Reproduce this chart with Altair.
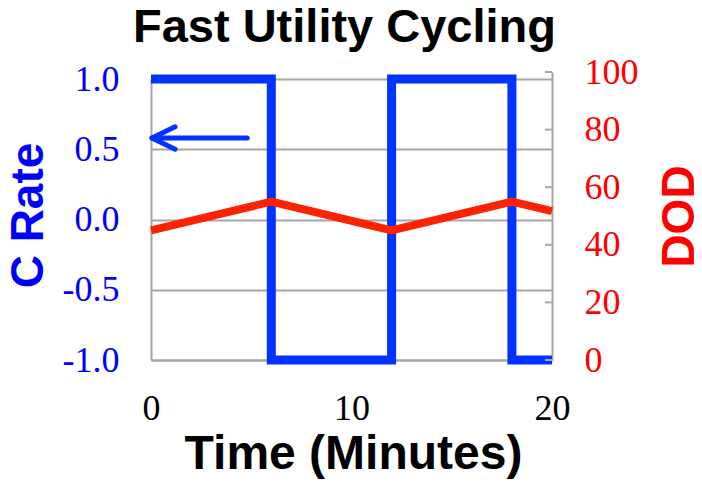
import altair as alt
import pandas as pd

# Blue square wave: C rate vs time (minutes)
c_time = [0, 6, 6, 12, 12, 18, 18, 20]
c_rate = [1, 1, -1, -1, 1, 1, -1, -1]

# Red DOD triangle wave
dod_time = [0, 6, 12, 18, 20]
dod_vals = [45, 55, 45, 55, 51.7]

# Arrow annotation (pointing to left axis), in data units
arrow_x = [0.05, 4.8, 1.2, 0.05, 1.2]
arrow_y = [0.58, 0.58, 0.66, 0.58, 0.50]
arrow_seg = ["shaft", "shaft", "head", "head", "head"]

x_ticks = [0, 10, 20]
c_ticks = [-1.0, -0.5, 0.0, 0.5, 1.0]
dod_ticks = [0, 20, 40, 60, 80, 100]

W, H = 401, 281
GRID = "#a6a6a6"
BLUE_LINE = "#0033ff"
RED_LINE = "#ff2200"
LABEL_SIZE = 36

c_df = pd.DataFrame({"t": c_time, "c": c_rate, "o": list(range(len(c_time)))})
d_df = pd.DataFrame({"t": dod_time, "dod": dod_vals, "o": list(range(len(dod_time)))})
a_df = pd.DataFrame({"t": arrow_x, "c": arrow_y, "seg": arrow_seg,
                     "o": list(range(len(arrow_x)))})
tick_df = pd.DataFrame({"dod": dod_ticks})

x_scale = alt.Scale(domain=[0, 20], nice=False)
x_axis = alt.Axis(values=x_ticks, format="d", title="Time (Minutes)",
                  labelFont="Liberation Serif", labelFontSize=LABEL_SIZE, labelColor="black",
                  labelPadding=31, ticks=False, domainColor=GRID, domainWidth=2,
                  grid=False, titleFont="Liberation Sans", titleFontSize=48,
                  titleFontWeight="bold", titleColor="black",
                  titleX=202, titleY=108, titleBaseline="alphabetic",
                  titleAlign="center", labelFlush=False)

left_scale = alt.Scale(domain=[-1, 1], nice=False)
left_axis = alt.Axis(values=c_ticks, title="C Rate",
                     labelExpr="datum.value < 0 ? '-' + format(-datum.value, '.1f') : format(datum.value, '.1f')",
                     labelFont="Liberation Serif", labelFontSize=LABEL_SIZE, labelColor="#0000ff",
                     labelPadding=32, ticks=False, domainColor=GRID, domainWidth=2,
                     grid=True, gridColor=GRID, gridWidth=2, gridOpacity=1,
                     titleFont="Liberation Sans", titleFontSize=46, titleFontWeight="bold",
                     titleColor="#0000ff", titleAngle=270, titleX=-123, titleY=136,
                     titleBaseline="middle", titleAlign="center", labelFlush=False)

right_scale = alt.Scale(domain=[0, 100], range=[H, -7], nice=False)
right_axis = alt.Axis(values=dod_ticks, format="d", title="DOD", orient="right",
                      labelFont="Liberation Serif", labelFontSize=LABEL_SIZE, labelColor="#ff0000",
                      labelPadding=32, ticks=False, domainColor=GRID, domainWidth=2,
                      grid=False, titleFont="Liberation Sans", titleFontSize=46,
                      titleFontWeight="bold", titleColor="#ff0000", titleAngle=270,
                      titleX=127, titleY=137, titleBaseline="middle", titleAlign="center",
                      labelFlush=False)

blue_line = alt.Chart(c_df).mark_line(color=BLUE_LINE, strokeWidth=9, strokeJoin="miter").encode(
    x=alt.X("t:Q", scale=x_scale, axis=x_axis),
    y=alt.Y("c:Q", scale=left_scale, axis=left_axis),
    order="o:Q",
)

arrow = alt.Chart(a_df).mark_line(color=BLUE_LINE, strokeWidth=5, strokeCap="round",
                                  strokeJoin="round").encode(
    x=alt.X("t:Q", scale=x_scale, axis=x_axis),
    y=alt.Y("c:Q", scale=left_scale, axis=left_axis),
    detail="seg:N",
    order="o:Q",
)

left_layer = alt.layer(blue_line, arrow)

red_line = alt.Chart(d_df).mark_line(color=RED_LINE, strokeWidth=8).encode(
    x=alt.X("t:Q", scale=x_scale, axis=x_axis),
    y=alt.Y("dod:Q", scale=right_scale, axis=right_axis),
    order="o:Q",
)

right_ticks = alt.Chart(tick_df).mark_rule(color=GRID, strokeWidth=2).encode(
    x=alt.value(W - 7), x2=alt.value(W),
    y=alt.Y("dod:Q", scale=right_scale, axis=right_axis),
)

right_layer = alt.layer(right_ticks, red_line)

chart = alt.layer(left_layer, right_layer).resolve_scale(y="independent").properties(
    width=W, height=H,
    title=alt.TitleParams("Fast Utility Cycling", font="Liberation Sans", fontSize=47,
                          fontWeight="bold", color="black", anchor="middle",
                          frame="group", baseline="alphabetic", offset=0, dx=-7, dy=35),
    autosize=alt.AutoSizeParams(type="none"),
    padding={"left": 143, "top": 71, "right": 142, "bottom": 123},
).configure_view(stroke=None).configure(background="white")

chart.save("out.html", embed_options={"renderer": "svg", "actions": False})
